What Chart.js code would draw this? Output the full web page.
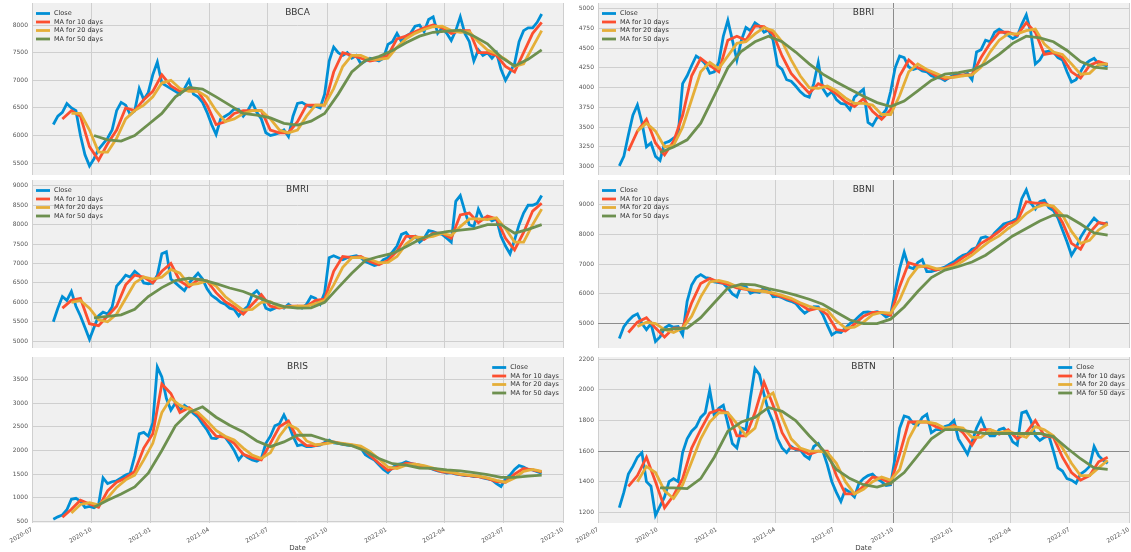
<!DOCTYPE html>
<html><head><meta charset="utf-8">
<script src="https://cdn.jsdelivr.net/npm/chart.js@4.4.0/dist/chart.umd.min.js"></script>
<style>
html,body{margin:0;padding:0;background:#fff;width:1131px;height:552px;overflow:hidden;position:relative}
canvas{position:absolute}
</style></head><body>
<canvas id="c0"></canvas><canvas id="c1"></canvas><canvas id="c2"></canvas>
<canvas id="c3"></canvas><canvas id="c4"></canvas><canvas id="c5"></canvas>
<script>
// ---------- DATA ----------
const firstWeekDate = '2020-08-03';   // date of first weekly sample
const axisStart = '2020-07-01';
const axisEnd = '2022-10-01';
const xTickLabels = ['2020-07','2020-10','2021-01','2021-04','2021-07','2021-10','2022-01','2022-04','2022-07','2022-10'];
const seriesLabels = ['Close','MA for 10 days','MA for 20 days','MA for 50 days'];
const seriesStartWeek = [0, 2, 4, 9];
const seriesStepWeeks = [1, 2, 2, 3];

const bbcaYTicks = [5500,6000,6500,7000,7500,8000];
const bbcaClose = [6200,6350,6420,6580,6500,6450,6000,5650,5450,5580,
5750,5850,5950,6100,6450,6600,6550,6380,6450,6850,
6650,6780,7100,7330,6950,6900,6850,6800,6750,6850,
7000,6750,6700,6600,6420,6200,6020,6300,6350,6400,
6480,6470,6350,6450,6600,6420,6300,6050,6000,6020,
6050,6100,5980,6350,6580,6600,6550,6520,6530,6500,
6750,7350,7600,7500,7450,7500,7400,7450,7300,7350,
7400,7380,7350,7400,7650,7700,7850,7700,7800,7850,
7980,8000,7880,8100,8150,7850,7950,7850,7720,7900,
8150,7850,7700,7350,7550,7450,7500,7400,7500,7200,
7000,7150,7300,7700,7900,7950,7950,8050,8200];
const bbcaMa10 = [6300,6450,6350,5800,5550,5850,6100,6500,6450,6650,
6800,7100,6900,6800,6850,6800,6550,6200,6250,6400,
6450,6450,6450,6100,6050,6050,6250,6550,6550,6550,
7150,7500,7450,7400,7350,7380,7450,7750,7800,7880,
7950,8000,7950,7850,7900,7900,7500,7500,7450,7250,
7150,7500,7850,8050];
const bbcaMa20 = [6400,6400,6100,5700,5700,5950,6300,6450,6550,6700,
6950,7000,6850,6800,6800,6700,6450,6250,6300,6400,
6450,6450,6300,6100,6050,6100,6350,6550,6550,6850,
7250,7450,7450,7380,7380,7400,7600,7750,7850,7920,
7970,7980,7900,7870,7880,7700,7550,7480,7380,7250,
7300,7600,7900];
const bbcaMa50 = [6000,5920,5900,6000,6200,6400,6700,6870,6840,6700,
6550,6400,6370,6320,6220,6190,6260,6400,6750,7150,
7360,7430,7540,7680,7800,7870,7890,7910,7800,7660,
7420,7260,7380,7550];

const bbriYTicks = [3000,3250,3500,3750,4000,4250,4500,4750,5000];
const bbriClose = [3010,3130,3400,3650,3780,3560,3250,3300,3130,3080,
3300,3320,3360,3400,4050,4150,4280,4400,4360,4300,
4180,4200,4320,4650,4850,4600,4350,4600,4760,4720,
4820,4780,4700,4730,4600,4280,4230,4100,4080,4020,
3950,3900,3880,4050,4320,3990,3900,3950,3850,3800,
3790,3720,3880,3930,3980,3560,3520,3620,3650,3720,
3950,4250,4400,4380,4260,4230,4250,4210,4200,4150,
4130,4120,4090,4130,4160,4170,4150,4180,4100,4450,
4480,4600,4580,4700,4740,4700,4660,4620,4650,4800,
4920,4700,4300,4350,4450,4460,4450,4380,4350,4200,
4070,4100,4200,4300,4340,4370,4300,4290,4270];
const bbriMa10 = [3200,3450,3600,3300,3150,3320,3650,4150,4370,4280,
4200,4600,4650,4600,4780,4770,4680,4400,4180,4050,
3930,4050,4000,3920,3820,3760,3860,3700,3600,3720,
4150,4350,4250,4220,4150,4110,4140,4160,4160,4380,
4560,4700,4700,4660,4820,4700,4420,4440,4380,4200,
4120,4280,4330,4290];
const bbriMa20 = [3450,3550,3450,3250,3270,3500,3850,4200,4320,4240,
4400,4560,4580,4680,4760,4720,4580,4350,4150,4000,
3990,4020,3960,3870,3800,3800,3780,3660,3660,3900,
4200,4300,4230,4180,4130,4130,4150,4160,4260,4450,
4600,4680,4680,4720,4740,4550,4450,4420,4300,4170,
4180,4290,4300];
const bbriMa50 = [3180,3250,3340,3550,3900,4250,4460,4580,4650,4580,
4450,4300,4170,4070,3980,3890,3810,3760,3830,3960,
4090,4170,4190,4220,4300,4420,4560,4650,4630,4580,
4470,4330,4260,4240];

const bmriYTicks = [5000,5500,6000,6500,7000,7500,8000,8500,9000];
const bmriClose = [5500,5850,6150,6050,6280,5900,5650,5350,5050,5350,
5650,5750,5700,5880,6420,6550,6700,6650,6800,6700,
6500,6480,6500,6700,7250,7300,6600,6500,6400,6300,
6500,6620,6750,6600,6350,6180,6100,6000,5950,5850,
5820,5650,5800,5900,6200,6300,6150,5850,5800,5850,
5900,5850,5950,5870,5900,5850,5950,6150,6100,5950,
6250,7150,7200,7150,7100,7150,7180,7200,7150,7050,
7000,6950,6980,7100,7150,7300,7450,7750,7800,7650,
7700,7550,7650,7850,7820,7780,7750,7650,7550,8600,
8750,8350,8000,7950,8400,8150,8200,8100,8150,7700,
7450,7250,7600,8000,8300,8500,8500,8550,8750];
const bmriMa10 = [5850,6050,6100,5450,5400,5650,5900,6450,6700,6650,
6500,6800,7000,6550,6400,6580,6550,6250,6020,5880,
5700,5950,6200,5900,5850,5900,5900,5900,6050,6080,
6800,7180,7150,7180,7050,6970,7080,7320,7700,7700,
7620,7780,7780,7650,8250,8300,8050,8220,8150,7650,
7350,7800,8350,8550];
const bmriMa20 = [6000,6050,5850,5550,5500,5700,6100,6500,6650,6600,
6650,6850,6750,6450,6480,6550,6420,6150,5970,5800,
5820,6000,6020,5880,5880,5900,5900,5970,6050,6450,
6900,7150,7150,7110,7020,7030,7180,7500,7680,7670,
7700,7780,7720,7950,8150,8150,8130,8180,7900,7550,
7550,8000,8400];
const bmriMa50 = [5600,5640,5680,5820,6150,6380,6560,6620,6580,6480,
6370,6280,6140,6000,5890,5850,5860,6000,6380,6750,
7080,7180,7260,7430,7620,7760,7820,7860,7900,8000,
8000,7780,7880,8000];

const bbniYTicks = [5000,6000,7000,8000,9000];
const bbniClose = [4500,4900,5100,5250,5330,5000,4800,5000,4400,4550,
4850,4950,4880,4900,4620,5750,6300,6550,6650,6550,
6520,6400,6380,6350,6200,6000,5900,6300,6250,6020,
6080,6050,6200,6150,5900,5920,5870,5800,5750,5680,
5500,5350,5450,5570,5560,5300,4950,4620,4720,4700,
4850,5000,5100,5250,5380,5390,5370,5400,5350,5220,
5300,6100,6850,7400,6900,6850,7050,7150,6750,6750,
6800,6850,6900,7000,7080,7200,7300,7350,7500,7560,
7880,7920,7850,8050,8200,8350,8400,8450,8550,9200,
9500,9050,8850,9100,9150,8900,8800,8550,8150,7750,
7300,7550,7900,8150,8350,8550,8400,8350,8400];
const bbniMa10 = [4700,5050,5200,4850,4550,4850,4850,5700,6350,6520,
6400,6320,6200,6150,6100,6100,6000,5900,5800,5650,
5450,5520,5300,4800,4750,4980,5250,5380,5380,5280,
6250,7050,6950,6900,6800,6870,7000,7220,7400,7700,
7880,8100,8350,8450,9100,9050,9050,8900,8400,7700,
7500,8050,8400,8350];
const bbniMa20 = [4900,5050,5000,4800,4700,4850,5250,5900,6400,6450,
6380,6250,6170,6120,6080,6030,5950,5850,5700,5580,
5500,5450,5100,4850,4880,5050,5300,5380,5350,5800,
6500,6900,6950,6850,6850,6920,7100,7300,7550,7780,
7950,8200,8400,8700,8900,9000,8950,8650,8100,7700,
7800,8150,8350];
const bbniMa50 = [4780,4820,4850,5200,5700,6200,6330,6300,6180,6080,
5960,5820,5650,5380,5120,5000,5000,5150,5560,6080,
6550,6800,6920,7070,7300,7620,7950,8200,8450,8650,
8620,8350,8050,7980];

const brisYTicks = [500,1000,1500,2000,2500,3000,3500];
const brisClose = [550,600,640,750,970,990,930,800,820,790,
850,1420,1300,1340,1360,1420,1480,1520,1880,2350,
2380,2300,2580,3760,3550,3100,2850,3000,2850,2950,
2880,2780,2700,2560,2430,2260,2250,2320,2280,2150,
2000,1800,1920,1850,1800,1770,1830,2150,2300,2520,
2560,2750,2550,2300,2100,2120,2080,2080,2100,2110,
2170,2220,2160,2150,2130,2110,2100,2090,2050,1910,
1850,1800,1700,1600,1530,1640,1700,1720,1760,1730,
1700,1690,1660,1640,1600,1570,1550,1520,1530,1500,
1490,1470,1470,1450,1450,1420,1400,1380,1300,1240,
1400,1480,1600,1680,1650,1600,1590,1550,1520];
const brisMa10 = [590,760,950,870,800,1150,1330,1420,1560,2050,
2350,3400,3200,2800,2900,2760,2520,2300,2280,2150,
1920,1850,1800,2150,2500,2620,2250,2100,2100,2150,
2180,2140,2110,2070,1900,1730,1580,1650,1730,1710,
1660,1610,1550,1530,1490,1470,1450,1410,1340,1330,
1500,1620,1590,1550];
const brisMa20 = [680,860,900,850,1000,1220,1380,1480,1800,2150,
2800,3100,2950,2870,2800,2620,2420,2300,2220,2050,
1900,1830,1950,2300,2550,2450,2200,2120,2140,2170,
2150,2120,2090,1980,1820,1650,1620,1690,1710,1680,
1630,1570,1540,1500,1480,1460,1420,1370,1330,1420,
1560,1600,1560];
const brisMa50 = [800,950,1080,1230,1520,2000,2520,2800,2920,2700,
2530,2390,2200,2080,2180,2320,2320,2230,2150,2100,
1990,1830,1720,1690,1630,1620,1590,1570,1530,1490,
1430,1430,1460,1480];

const bbtnYTicks = [1200,1400,1600,1800,2000,2200];
const bbtnClose = [1230,1330,1450,1500,1560,1590,1400,1370,1180,1240,
1300,1400,1420,1400,1590,1680,1730,1760,1820,1850,
2000,1830,1880,1900,1780,1650,1620,1750,1740,1950,
2140,2100,1970,1860,1790,1680,1620,1590,1630,1610,
1610,1570,1550,1630,1650,1600,1510,1400,1330,1270,
1350,1330,1300,1390,1420,1440,1450,1420,1400,1375,
1380,1560,1750,1830,1820,1780,1770,1820,1840,1720,
1740,1740,1760,1770,1800,1680,1630,1580,1660,1750,
1810,1740,1700,1700,1740,1750,1720,1660,1640,1850,
1860,1800,1700,1670,1690,1700,1600,1490,1470,1420,
1410,1390,1450,1470,1500,1630,1570,1540,1520];
const bbtnMa10 = [1370,1440,1560,1400,1230,1310,1420,1620,1740,1850,
1870,1850,1700,1700,1850,2050,1900,1720,1620,1610,
1580,1600,1600,1440,1320,1320,1370,1430,1420,1390,
1580,1790,1790,1790,1760,1740,1770,1720,1640,1740,
1740,1710,1740,1680,1720,1800,1700,1690,1560,1460,
1410,1440,1530,1560];
const bbtnMa20 = [1400,1500,1460,1340,1290,1380,1530,1680,1790,1850,
1850,1780,1700,1750,1940,1980,1820,1680,1620,1600,
1600,1590,1520,1400,1320,1350,1400,1430,1410,1480,
1680,1790,1790,1780,1750,1760,1750,1690,1690,1740,
1720,1730,1710,1690,1760,1740,1700,1620,1520,1440,
1440,1490,1540];
const bbtnMa50 = [1360,1360,1355,1420,1560,1730,1790,1820,1885,1860,
1800,1700,1610,1480,1420,1380,1365,1390,1460,1570,
1680,1740,1740,1725,1715,1715,1715,1715,1715,1695,
1620,1550,1490,1480];

// ---------- STYLE / LAYOUT ----------
const lineColors = ['#008fd5','#fc4f30','#e5ae38','#6d904f'];
const lineOrder = [4,3,2,1];
const colGeom = [{left:0,width:566,padR:3},{left:566,width:565,padR:2}];
const rowGeom = [{top:0,height:178,padT:3,padB:3,axisH:0},
                 {top:178,height:172,padT:2,padB:2,axisH:0},
                 {top:352,height:200,padT:5,padB:0,axisH:29}];
const yAxisWidth = 32;

const panels = [
 {name:'BBCA', series:[bbcaClose,bbcaMa10,bbcaMa20,bbcaMa50], yTicks:bbcaYTicks, yMin:5285, yMax:8400, col:0,row:0, legend:'left'},
 {name:'BBRI', series:[bbriClose,bbriMa10,bbriMa20,bbriMa50], yTicks:bbriYTicks, yMin:2895, yMax:5070, col:1,row:0, legend:'left', darkX:'2021-10'},
 {name:'BMRI', series:[bmriClose,bmriMa10,bmriMa20,bmriMa50], yTicks:bmriYTicks, yMin:4825, yMax:9150, col:0,row:1, legend:'left'},
 {name:'BBNI', series:[bbniClose,bbniMa10,bbniMa20,bbniMa50], yTicks:bbniYTicks, yMin:4180, yMax:9830, col:1,row:1, legend:'left', darkX:'2021-10', darkY:5000},
 {name:'BRIS', series:[brisClose,brisMa10,brisMa20,brisMa50], yTicks:brisYTicks, yMin:470, yMax:3970, col:0,row:2, legend:'right'},
 {name:'BBTN', series:[bbtnClose,bbtnMa10,bbtnMa20,bbtnMa50], yTicks:bbtnYTicks, yMin:1130, yMax:2215, col:1,row:2, legend:'right', darkX:'2021-10', darkY:1600}
];

function dayOf(s){
  const p = s.split('-').map(Number);
  return (Date.UTC(p[0], p[1]-1, p[2]||1) - Date.UTC(2020,6,1)) / 864e5;
}
const FONT = "'DejaVu Sans', sans-serif";
Chart.defaults.font.family = FONT;

const bgPlugin = {
  id:'plotBg',
  beforeDraw(chart){
    const {ctx, chartArea:a} = chart;
    ctx.save(); ctx.fillStyle = '#f0f0f0';
    ctx.fillRect(a.left, a.top, a.right-a.left, a.bottom-a.top);
    ctx.restore();
  }
};
const decorPlugin = {
  id:'decor',
  afterDatasetsDraw(chart, args, o){
    const {ctx, chartArea:a} = chart;
    ctx.save();
    ctx.font = '9px ' + FONT; ctx.fillStyle = '#333';
    ctx.textAlign = 'center'; ctx.textBaseline = 'middle';
    ctx.fillText(o.title, (a.left+a.right)/2, a.top + 10);
    ctx.font = '6.5px ' + FONT; ctx.textAlign = 'left';
    const maxW = Math.max(...seriesLabels.map(t => ctx.measureText(t).width));
    const textX = o.side === 'left' ? a.left + 22 : a.right - 4 - maxW;
    seriesLabels.forEach((t, i) => {
      const y = a.top + 10.5 + i*8.5;
      ctx.strokeStyle = lineColors[i]; ctx.lineWidth = 2.8;
      ctx.beginPath(); ctx.moveTo(textX-18, y); ctx.lineTo(textX-4, y); ctx.stroke();
      ctx.fillStyle = '#333'; ctx.fillText(t, textX, y);
    });
    ctx.restore();
  }
};

panels.forEach((p, k) => {
  const cg = colGeom[p.col], rg = rowGeom[p.row];
  const cv = document.getElementById('c'+k);
  cv.width = cg.width; cv.height = rg.height;
  cv.style.left = cg.left + 'px'; cv.style.top = rg.top + 'px';
  cv.style.width = cg.width + 'px'; cv.style.height = rg.height + 'px';
  const bottom = rg.axisH > 0;
  const x0 = dayOf(firstWeekDate);
  const datasets = p.series.map((vals, si) => ({
    label: seriesLabels[si],
    data: vals.map((v, i) => ({x: x0 + 7*(seriesStartWeek[si] + i*seriesStepWeeks[si]), y: v})),
    borderColor: lineColors[si], backgroundColor: lineColors[si],
    borderWidth: 2.8, pointRadius: 0, tension: 0, fill: false, order: lineOrder[si]
  }));
  new Chart(cv, {
    type: 'line',
    data: { datasets },
    plugins: [bgPlugin, decorPlugin],
    options: {
      responsive: false, animation: false, devicePixelRatio: 1,
      layout: { autoPadding: false, padding: {left:0, right:cg.padR, top:rg.padT, bottom:rg.padB} },
      plugins: { legend:{display:false}, tooltip:{enabled:false},
                 decor: { title: p.name, side: p.legend } },
      scales: {
        x: {
          type: 'linear', min: dayOf(axisStart), max: dayOf(axisEnd),
          border: { display: false },
          grid: { drawTicks: false, lineWidth: 1,
                  color: c => (p.darkX && c.tick && c.tick.value === dayOf(p.darkX)) ? '#8c8c8c' : '#cfcfcf' },
          ticks: { display: bottom, autoSkip: false, minRotation: 30, maxRotation: 30, padding: 3,
                   font: { size: 6 }, color: '#555',
                   callback: v => { const l = xTickLabels.find(t => dayOf(t) === v); return l || ''; } },
          afterBuildTicks: s => { s.ticks = xTickLabels.map(l => ({value: dayOf(l)})); },
          afterFit: s => { s.height = rg.axisH; s.paddingLeft = 0; s.paddingRight = 0; },
          title: { display: bottom, text: 'Date', font: { size: 7 }, color: '#444', padding: 0 }
        },
        y: {
          min: p.yMin, max: p.yMax,
          border: { display: false },
          grid: { drawTicks: false, lineWidth: 1,
                  color: c => (p.darkY && c.tick && c.tick.value === p.darkY) ? '#8c8c8c' : '#cfcfcf' },
          ticks: { font: { size: 6 }, color: '#555', padding: 4, callback: v => String(v) },
          afterBuildTicks: s => { s.ticks = p.yTicks.map(v => ({value: v})); },
          afterFit: s => { s.width = yAxisWidth; s.paddingTop = 0; s.paddingBottom = 0; }
        }
      }
    }
  });
});
</script>
</body></html>
